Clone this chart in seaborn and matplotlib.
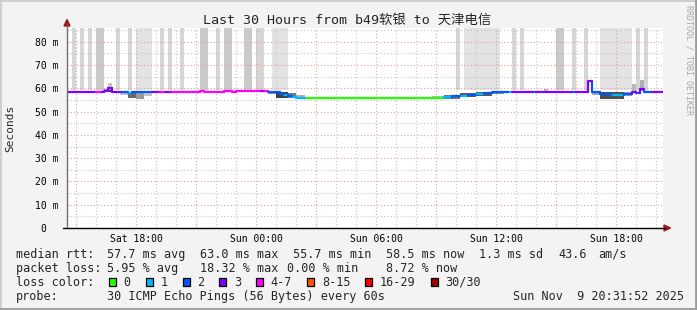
import numpy as np
import pandas as pd
import matplotlib
matplotlib.use("Agg")
import matplotlib.pyplot as plt
from matplotlib.lines import Line2D
from matplotlib.patches import Polygon, Rectangle
import seaborn as sns

# ---------------- data (time = hours since Sat 00:00) ----------------
seg_start = [14.55, 16.0, 16.2, 16.4, 16.6, 16.8, 17.2, 17.6, 17.8, 18.8,
             19.2, 19.4, 19.8, 21.2, 21.4, 22.4, 22.8, 23.0, 24.2, 24.4,
             24.6, 25.2, 25.4, 25.6, 25.8, 26.0, 26.45, 33.0, 33.4, 33.8,
             34.2, 34.6, 35.0, 35.4, 35.8, 36.2, 36.6, 36.8, 37.8, 38.0,
             39.8, 40.0, 40.6, 40.8, 41.2, 41.8, 42.4, 42.8, 43.0, 43.2,
             43.4, 43.8]
seg_end = seg_start[1:] + [44.35]
seg_median_ms = [58.5, 58.5, 58.5, 59.0, 60.0, 58.5, 58.5, 58.0, 58.5, 58.5,
                 58.5, 58.5, 58.5, 59.0, 58.5, 59.0, 58.5, 59.0, 58.8, 58.8,
                 58.5, 57.5, 57.0, 56.5, 56.2, 56.0, 55.7, 56.0, 56.3, 56.6,
                 56.9, 57.2, 57.5, 57.8, 58.3, 58.5, 58.5, 58.5, 58.5, 58.5,
                 58.5, 58.5, 63.0, 58.3, 57.5, 57.0, 57.5, 58.5, 58.0, 59.7,
                 58.5, 58.5]
seg_loss_class = [3, 4, 3, 3, 3, 3, 2, 1, 2, 3,
                  4, 3, 4, 4, 4, 4, 4, 4, 3, 4,
                  2, 2, 1, 2, 1, 1, 0, 0, 1, 2,
                  1, 2, 1, 2, 2, 2, 1, 3, 2, 3,
                  2, 3, 3, 2, 2, 1, 2, 3, 2, 3,
                  2, 3]

# packet-loss background bars
loss_start = [14.8, 15.2, 15.6, 16.0, 17.0, 17.6, 18.0, 19.2, 19.6, 20.2,
              21.2, 22.0, 22.4, 23.4, 24.0, 24.8, 34.0, 34.4, 36.8, 37.2,
              39.0, 39.8, 40.4, 41.2, 43.0, 43.4]
loss_end = [15.0, 15.4, 15.8, 16.4, 17.2, 17.8, 18.8, 19.4, 19.8, 20.4,
            21.6, 22.2, 22.8, 23.8, 24.4, 25.6, 34.2, 36.2, 37.0, 37.4,
            39.4, 40.0, 40.6, 42.8, 43.2, 43.6]
loss_level = ["m", "m", "m", "d", "m", "m", "l", "m", "m", "m",
              "d", "m", "d", "d", "m", "l", "m", "l", "m", "m",
              "d", "m", "m", "l", "m", "m"]

# smoke (spread of individual pings)
smoke_start = [16.4, 16.55, 16.6, 17.2, 17.6, 18.0, 18.4, 24.6, 25.0, 25.6,
               26.0, 32.8, 33.4, 34.2, 35.0, 35.8, 38.4, 40.55, 40.8, 40.8,
               41.2, 42.4, 42.8, 43.2]
smoke_end = [16.6, 16.85, 16.8, 17.6, 18.0, 18.4, 18.8, 25.0, 25.6, 26.0,
             26.45, 33.4, 34.2, 35.0, 35.8, 36.4, 38.6, 40.6, 40.85, 41.2,
             42.4, 42.8, 43.0, 43.4]
smoke_lo = [58.5, 58.5, 59.2, 57.2, 56.0, 55.6, 56.8, 57.5, 55.8, 55.9,
            55.7, 55.5, 55.6, 56.1, 56.7, 57.5, 58.8, 58.5, 58.5, 57.0,
            55.4, 56.5, 58.6, 59.0]
smoke_hi = [59.8, 60.6, 62.3, 58.5, 58.5, 58.5, 58.5, 58.8, 58.4, 57.8,
            57.2, 56.8, 57.3, 57.9, 58.5, 58.7, 59.7, 63.2, 63.2, 58.5,
            58.5, 58.5, 61.8, 63.5]
smoke_shade = ["#8c8c8c", "#404040", "#c4c4c4", "#c0c0c0", "#6a6a6a", "#9a9a9a",
               "#c4c4c4", "#909090", "#404040", "#7a7a7a", "#b0b0b0", "#b4b4b4",
               "#6e6e6e", "#5a5a5a", "#5a5a5a", "#8c8c8c", "#b8b8b8", "#202020",
               "#202020", "#a6a6a6", "#4e4e4e", "#a0a0a0", "#b8b8b8", "#b0b0b0"]

loss_labels = ["0", "1", "2", "3", "4-7", "8-15", "16-29", "30/30"]
loss_colors = ["#26ff00", "#00b8ff", "#0059ff", "#7e00ff", "#ff00ff",
               "#ff5500", "#ff0000", "#a10000"]

y_ticks = [0, 10, 20, 30, 40, 50, 60, 70, 80]
y_tick_labels = ["0  ", "10 m", "20 m", "30 m", "40 m", "50 m", "60 m", "70 m", "80 m"]
x_major = [15, 18, 21, 24, 27, 30, 33, 36, 39, 42]
x_labels = {18: "Sat 18:00", 24: "Sun 00:00", 30: "Sun 06:00", 36: "Sun 12:00", 42: "Sun 18:00"}

title = "Last 30 Hours from b49软银 to 天津电信"
stats_rtt = [("median rtt:", 16), ("57.7 ms avg", 107), ("63.0 ms max", 200),
             ("55.7 ms min", 293), ("58.5 ms now", 386), ("1.3 ms sd", 479),
             ("43.6", 558), ("am/s", 598)]
stats_loss = [("packet loss:", 16), ("5.95 % avg", 107), ("18.32 % max", 200),
              ("0.00 % min", 287), ("8.72 % now", 386)]
probe_text = [("probe:", 16), ("30 ICMP Echo Pings (56 Bytes) every 60s", 107),
              ("Sun Nov  9 20:31:52 2025", 513)]

# ---------------- style ----------------
sns.set_style("white")
plt.rcParams["font.family"] = ["DejaVu Sans Mono", "Noto Sans CJK SC"]

W, H = 697, 310
fig = plt.figure(figsize=(W / 100, H / 100), dpi=100, facecolor="#f3f3f3")


def fx(px):
    return px / W


def fy(py):
    return 1 - py / H


ax = fig.add_axes([fx(67), fy(228), (663 - 67) / W, 200 / H])
ax.set_facecolor("white")
ax.set_xlim(14.55, 44.35)
ax.set_ylim(0, 85.9)

# loss bars
shade_map = {"l": "#e3e3e3", "m": "#d6d6d6", "d": "#cacaca"}
for s, e, lv in zip(loss_start, loss_end, loss_level):
    ax.bar(s, 85.9 - 59.3, bottom=59.3, width=e - s, align="edge",
           color=shade_map[lv], linewidth=0, zorder=1)

# smoke
for s, e, lo, hi, c in zip(smoke_start, smoke_end, smoke_lo, smoke_hi, smoke_shade):
    ax.bar(s, hi - lo, bottom=lo, width=e - s, align="edge",
           color=c, linewidth=0, zorder=3)

# median line coloured by loss class
rows = []
prev = seg_median_ms[0]
for i, (t0, t1, v, c) in enumerate(zip(seg_start, seg_end, seg_median_ms, seg_loss_class)):
    rows += [(i, t0, prev, c), (i, t0, v, c), (i, t1, v, c)]
    prev = v
df = pd.DataFrame(rows, columns=["seg", "time", "median", "loss"])
palette = {i: c for i, c in enumerate(loss_colors)}
sns.lineplot(data=df, x="time", y="median", hue="loss", units="seg",
             estimator=None, sort=False, palette=palette, legend=False,
             linewidth=1.6, ax=ax, zorder=4)
ax.set_xlabel("")
ax.set_ylabel("")

# grid
ax.set_xticks(x_major)
ax.set_xticklabels([x_labels.get(t, "") for t in x_major])
ax.set_xticks(np.arange(15, 45, 1), minor=True)
ax.set_yticks(y_ticks)
ax.set_yticklabels(y_tick_labels)
ax.set_yticks(np.arange(5, 86, 5), minor=True)
ax.set_axisbelow(False)
ax.grid(which="major", color="#eb9c9c", linestyle=(0, (1, 2)), linewidth=0.8)
ax.grid(which="minor", color="#c4c4c4", linestyle=(0, (1, 2)), linewidth=0.8)
for gl in ax.get_xgridlines() + ax.get_ygridlines():
    gl.set_zorder(2)
ax.tick_params(axis="x", which="major", length=2, pad=2, labelsize=7, colors="#333333",
               labelcolor="black")
ax.tick_params(axis="x", which="minor", length=0)
ax.tick_params(axis="y", which="major", length=2, pad=4, labelsize=7, colors="#333333",
               labelcolor="black")
ax.tick_params(axis="y", which="minor", length=0)
for sp in ax.spines.values():
    sp.set_visible(False)

# axes lines and arrows
fig.add_artist(Line2D([fx(67), fx(67)], [fy(228), fy(25)], color="#707070", lw=1))
fig.add_artist(Line2D([fx(63), fx(665)], [fy(228), fy(228)], color="black", lw=1))
fig.add_artist(Polygon([[fx(64), fy(26)], [fx(70), fy(26)], [fx(67), fy(19.5)]],
                       closed=True, color="#9c1a1a", transform=fig.transFigure))
fig.add_artist(Polygon([[fx(664), fy(225)], [fx(664), fy(231)], [fx(670.5), fy(228)]],
                       closed=True, color="#9c1a1a", transform=fig.transFigure))

# frame
fig.add_artist(Line2D([0, 1], [fy(0.5), fy(0.5)], color="#cfcfcf", lw=1.5))
fig.add_artist(Line2D([fx(0.5), fx(0.5)], [0, 1], color="#cfcfcf", lw=1.5))
fig.add_artist(Line2D([0, 1], [fy(309), fy(309)], color="#9c9c9c", lw=2))
fig.add_artist(Line2D([fx(696), fx(696)], [0, 1], color="#9c9c9c", lw=2))

# texts
fig.text(fx(347.5), fy(20.5), title, ha="center", va="center", fontsize=9.6)
fig.text(fx(10), fy(128), "Seconds", rotation=90, ha="center", va="center", fontsize=8)
fig.text(fx(688.5), fy(60), "RRDTOOL / TOBI OETIKER", rotation=270, ha="center",
         va="center", fontsize=6, color="#a8a8a8")

for s, x in stats_rtt:
    fig.text(fx(x), fy(254.3), s, ha="left", va="center", fontsize=8.5)
for s, x in stats_loss:
    fig.text(fx(x), fy(268.3), s, ha="left", va="center", fontsize=8.5)
fig.text(fx(16), fy(282.3), "loss color:", ha="left", va="center", fontsize=8.5)
box_x = [108.7, 145.7, 182.7, 219.3, 256.3, 307.3, 365.3, 430.7]
for lab, col, bx in zip(loss_labels, loss_colors, box_x):
    fig.add_artist(Rectangle((fx(bx), fy(285.8)), 7 / W, 7.5 / H, transform=fig.transFigure,
                             facecolor=col, edgecolor="black", lw=0.9))
    fig.text(fx(bx + 14.5), fy(282.3), lab, ha="left", va="center", fontsize=8.5)
for s, x in probe_text:
    fig.text(fx(x), fy(296.3), s, ha="left", va="center", fontsize=8.5)

fig.savefig("out.png", dpi=100, facecolor=fig.get_facecolor())
